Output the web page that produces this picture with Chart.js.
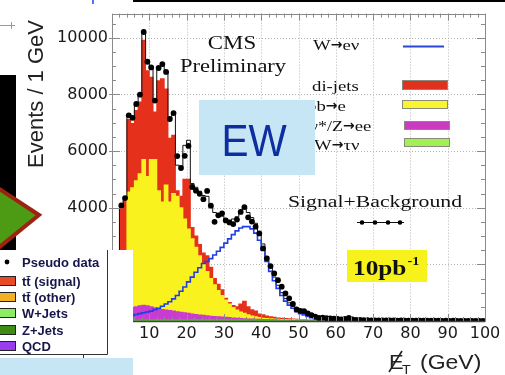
<!DOCTYPE html>
<html><head><meta charset="utf-8">
<script src="https://cdn.jsdelivr.net/npm/chart.js@4.4.0/dist/chart.umd.min.js"></script>
<style>html,body{margin:0;padding:0;background:#fff;overflow:hidden}</style>
</head><body>
<canvas id="c" width="505" height="375" style="display:block;width:505px;height:375px"></canvas>
<script>
// ---- data (1 GeV bins, 0..100 GeV) ----
const xTicks = [0,10,20,30,40,50,60,70,80,90,100];
const yTicks = [0,2000,4000,6000,8000,10000];
const wtaunu = [0,5,15,20,25,30,30,35,35,40, 40,40,45,45,45,45,45,45,45,45, 45,45,45,45,45,45,45,45,45,45, 45,40,40,40,40,40,35,35,35,30, 30,25,25,20,20,15,15,12,10,10, 8,7,6,6,5,5,4,4,3,3, 3,3,3,3,3,3,3,3,3,3, 2,2,2,2,2,2,2,2,2,2, 1,1,1,1,1,1,1,1,1,1, 1,1,1,1,1,1,1,1,1,1];
const zee = [100,245,335,380,425,450,470,505,525,500, 460,430,395,365,345,325,305,285,265,245, 225,205,185,170,155,140,125,115,105,95, 85,80,70,60,50,40,40,35,30,30, 25,25,20,20,15,15,13,13,12,10, 10,9,8,8,7,7,6,6,5,5, 4,4,4,4,4,4,4,4,4,4, 3,3,3,3,3,3,3,3,3,3, 2,2,2,2,2,2,2,2,2,2, 2,2,2,2,2,2,2,2,2,2];
const bbe = [400,650,1150,1800,4100,4220,4450,4660,5140,4560, 5200,5230,4160,3790,4410,3830,4150,4070,3690,3310, 2980,2650,2370,2085,1800,1565,1330,1120,930,760, 610,480,370,290,230,190,145,110,85,60, 45,40,35,30,27,25,22,20,18,16, 14,12,11,10,9,8,7,6,6,5, 4,4,4,4,4,4,4,4,4,4, 3,3,3,3,3,3,3,3,3,3, 2,2,2,2,2,2,2,2,2,2, 2,2,2,2,2,2,2,2,2,2];
const dijets = [300,1300,2460,2040,2560,2270,2480,2530,4210,3730, 2900,1680,3880,4350,3390,2250,2060,200,400,1400, 1750,400,400,400,400,550,400,220,220,200, 60,50,70,110,280,430,280,220,200,130, 120,90,70,60,48,45,40,35,30,24, 18,15,14,13,12,12,11,10,10,9, 8,8,8,8,8,8,8,8,8,8, 6,6,6,6,6,6,6,6,6,6, 4,4,4,4,4,4,4,4,4,4, 4,4,4,4,4,4,4,4,4,4];
const wenu = [10,30,60,100,150,200,230,260,290,320, 350,400,450,520,600,680,780,900,1050,1200, 1380,1550,1720,1880,2030,2100,2200,2330,2460,2600, 2750,2900,3050,3180,3280,3330,3330,3250,3100,2850, 2500,2100,1750,1420,1150,900,700,560,450,330, 260,210,160,120,90,70,55,45,38,32, 28,25,22,20,18,16,14,13,12,11, 10,9,9,8,8,7,7,6,6,6, 5,5,5,4,4,4,4,3,3,3, 3,3,2,2,2,2,2,2,2,2];
const pseudoData = [300,1800,4080,4340,7260,7170,7660,7990,10200,9150, 8950,7780,8930,9070,8790,7130,7340,5820,5400,5830, 6180,4730,4600,4490,4300,4590,4070,3500,3730,3800, 3550,3480,3420,3580,3850,4020,3660,3510,3330,3090, 2560,2210,1940,1680,1440,1210,975,800,600,410, 360,350,270,210,150,110,120,100,90,80, 70,60,70,110,60,40,35,30,30,25, 25,20,25,20,18,20,15,18,15,12, 15,12,10,12,10,8,10,8,6,8, 6,8,5,6,5,4,5,3,4,3];

const N = pseudoData.length;
const bars = arr => arr.map((v,i)=>({x:i+0.5,y:v}));
const steps = arr => { const p = arr.map((v,i)=>({x:i,y:v})); p.push({x:N,y:arr[N-1]}); return p; };
const totalMC = wenu.map((v,i)=>v+wtaunu[i]+zee[i]+bbe[i]+dijets[i]);

function sText(ctx, txt, x, y, font, color, sx, align){
  ctx.save(); ctx.font = font; ctx.fillStyle = color; ctx.textBaseline = 'alphabetic'; ctx.textAlign = 'left';
  const w = ctx.measureText(txt).width * sx;
  const x0 = align === 'center' ? x - w/2 : (align === 'right' ? x - w : x);
  ctx.translate(x0, y); ctx.scale(sx, 1); ctx.fillText(txt, 0, 0); ctx.restore();
  return x0 + w;
}
// text made of runs: [text, font, sx]
function runs(ctx, parts, x, y, color){
  let cx = x;
  parts.forEach(([t, f, sx, dy]) => { cx = sText(ctx, t, cx, y + (dy || 0), f, color, sx, 'left'); });
  return cx;
}

const deco = {
  id: 'deco',
  beforeDatasetsDraw(chart){
    const {ctx, chartArea:a, scales:{x, y}} = chart;
    ctx.save();
    ctx.strokeStyle = '#b5b5b5'; ctx.lineWidth = 1; ctx.setLineDash([1,2]);
    xTicks.slice(1,-1).forEach(v => { const p = Math.round(x.getPixelForValue(v)) + 0.5; ctx.beginPath(); ctx.moveTo(p, a.top); ctx.lineTo(p, a.bottom); ctx.stroke(); });
    yTicks.slice(1).forEach(v => { const p = Math.round(y.getPixelForValue(v)) + 0.5; ctx.beginPath(); ctx.moveTo(a.left, p); ctx.lineTo(a.right, p); ctx.stroke(); });
    ctx.restore();
  },
  afterDatasetsDraw(chart){
    const {ctx, chartArea:a, scales:{x, y}} = chart;
    ctx.save();
    ctx.strokeStyle = '#8a8a8a'; ctx.lineWidth = 1;
    ctx.strokeRect(Math.round(a.left)+0.5, Math.round(a.top)+0.5, Math.round(a.right-a.left), Math.round(a.bottom-a.top));
    ctx.beginPath();
    for (let v = 0; v <= 100; v += 2) {
      const p = Math.round(x.getPixelForValue(v)) + 0.5, L = v % 10 === 0 ? 7 : 4;
      ctx.moveTo(p, a.top); ctx.lineTo(p, a.top + L);
      ctx.moveTo(p, a.bottom); ctx.lineTo(p, a.bottom - L);
    }
    for (let v = 0; v <= 10500; v += 500) {
      const p = Math.round(y.getPixelForValue(v)) + 0.5, L = v % 2000 === 0 ? 8 : 4;
      ctx.moveTo(a.left - (v % 2000 === 0 ? 3 : 0), p); ctx.lineTo(a.left + L, p);
      ctx.moveTo(a.right, p); ctx.lineTo(a.right - L, p);
    }
    ctx.stroke();
    ctx.strokeStyle = '#444'; ctx.lineWidth = 1.5;
    ctx.beginPath(); ctx.moveTo(a.left, a.bottom + 0.5); ctx.lineTo(a.right, a.bottom + 0.5); ctx.stroke();
    ctx.restore();
  },
  afterDraw(chart){
    const ctx = chart.ctx;
    ctx.save();
    const serif = (s) => s + 'px "Liberation Serif", "DejaVu Serif", serif';
    const arrow = ['\u2192', 'bold 14px "DejaVu Sans", sans-serif', 1.0, -1];
    // CMS Preliminary
    sText(ctx, 'CMS', 232, 48.5, serif(18), '#111', 1.27, 'center');
    sText(ctx, 'Preliminary', 233, 72, serif(18), '#111', 1.25, 'center');
    // right legend
    const lg = serif(15);
    runs(ctx, [['W', lg, 1.25], arrow, ['e\u03bd', lg, 1.25]], 313, 50, '#111');
    sText(ctx, 'di-jets', 312, 91, lg, '#111', 1.25, 'left');
    runs(ctx, [['bb', lg, 1.25], arrow, ['e', lg, 1.25]], 307, 111, '#111');
    runs(ctx, [['\u03b3*/Z', lg, 1.2], arrow, ['ee', lg, 1.25]], 310, 131, '#111');
    runs(ctx, [['W', lg, 1.25], arrow, ['\u03c4\u03bd', lg, 1.25]], 314, 150, '#111');
    ctx.strokeStyle = '#2a46d8'; ctx.lineWidth = 2;
    ctx.beginPath(); ctx.moveTo(403, 46.5); ctx.lineTo(444, 46.5); ctx.stroke();
    const box = (x0, y0, w, h, c) => { ctx.fillStyle = c; ctx.fillRect(x0, y0, w, h); ctx.strokeStyle = '#8a8a7a'; ctx.lineWidth = 1; ctx.strokeRect(x0+0.5, y0+0.5, w-1, h-1); };
    box(402, 80, 46, 10, '#e0301e');
    box(402, 100, 46, 9, '#fbf530');
    box(404, 121, 46, 9, '#c93cc0');
    box(404, 138, 46, 9, '#a3f055');
    // Signal + Background
    sText(ctx, 'Signal+Background', 375, 207, serif(17), '#111', 1.28, 'center');
    ctx.strokeStyle = '#111'; ctx.lineWidth = 1;
    ctx.beginPath(); ctx.moveTo(357, 222.5); ctx.lineTo(404, 222.5); ctx.stroke();
    ctx.fillStyle = '#000';
    [362, 375, 388, 400].forEach(px => { ctx.beginPath(); ctx.arc(px, 222.5, 2.3, 0, Math.PI*2); ctx.fill(); });
    // 10 pb-1
    ctx.fillStyle = '#f7f21c'; ctx.fillRect(347, 250, 80, 32);
    const e = sText(ctx, '10pb', 353, 275, 'bold ' + serif(22), '#111', 1.15, 'left');
    sText(ctx, '-1', e + 1, 265, 'bold ' + serif(13), '#111', 1.1, 'left');
    // EW box
    ctx.fillStyle = '#c6e6f6'; ctx.fillRect(199, 100, 116, 75);
    sText(ctx, 'EW', 254, 156, '44px "Liberation Sans", Arial, sans-serif', '#0d2ea0', 0.92, 'center');
    // axis titles
    ctx.save();
    ctx.translate(43, 94); ctx.rotate(-Math.PI/2);
    ctx.font = '22px "Liberation Sans", Arial, sans-serif'; ctx.fillStyle = '#222'; ctx.textAlign = 'center'; ctx.textBaseline = 'alphabetic';
    ctx.fillText('Events / 1 GeV', 0, 0);
    ctx.restore();
    const sans = (s) => s + 'px "Liberation Sans", Arial, sans-serif';
    sText(ctx, 'E', 389, 369, sans(20), '#222', 1.1, 'left');
    ctx.strokeStyle = '#222'; ctx.lineWidth = 1.6;
    ctx.beginPath(); ctx.moveTo(389, 372); ctx.lineTo(402, 351); ctx.stroke();
    sText(ctx, 'T', 402, 374, sans(13), '#222', 1.1, 'left');
    sText(ctx, '(GeV)', 420, 369, sans(20), '#222', 1.15, 'left');
    // left decorations
    ctx.fillStyle = '#000'; ctx.fillRect(0, 75, 16, 175);
    ctx.beginPath(); ctx.moveTo(-45, 160); ctx.lineTo(39, 215); ctx.lineTo(-45, 283); ctx.closePath();
    ctx.fillStyle = '#4d9b14'; ctx.fill();
    ctx.strokeStyle = '#9b2410'; ctx.lineWidth = 4; ctx.lineJoin = 'miter'; ctx.stroke();
    ctx.strokeStyle = '#999'; ctx.lineWidth = 1;
    ctx.beginPath(); ctx.moveTo(0, 25.5); ctx.lineTo(15, 25.5); ctx.moveTo(11.5, 22); ctx.lineTo(11.5, 29); ctx.stroke();
    // white legend box
    ctx.fillStyle = '#fff'; ctx.fillRect(0, 250, 133, 108);
    ctx.strokeStyle = '#333'; ctx.lineWidth = 1;
    ctx.beginPath(); ctx.moveTo(107.5, 250); ctx.lineTo(107.5, 354.5); ctx.lineTo(0, 354.5); ctx.moveTo(83.5, 354.5); ctx.lineTo(83.5, 358); ctx.stroke();
    const lf = 'bold 13px "Liberation Sans", Arial, sans-serif', lc = '#16164a';
    ctx.fillStyle = '#000'; ctx.beginPath(); ctx.arc(7, 262, 2.4, 0, Math.PI*2); ctx.fill();
    sText(ctx, 'Pseudo data', 22, 267, lf, lc, 1.0, 'left');
    const ent = [['tt\u0304 (signal)', '#e84a28', 276], ['tt\u0304 (other)', '#f2b124', 292], ['W+Jets', '#8cec64', 308], ['Z+Jets', '#3e8c14', 325], ['QCD', '#9a3cf0', 341]];
    ent.forEach(([t, c, yy]) => {
      ctx.fillStyle = c; ctx.fillRect(-2, yy, 18, 10);
      ctx.strokeStyle = '#222'; ctx.lineWidth = 1; ctx.strokeRect(-1.5, yy + 0.5, 17, 9);
      sText(ctx, t, 22, yy + 10, lf, lc, 1.0, 'left');
    });
    ctx.fillStyle = '#c6e6f6'; ctx.fillRect(0, 358, 133, 17);
    // top edge
    ctx.fillStyle = '#000'; ctx.fillRect(133, 0, 372, 2);
    ctx.fillStyle = '#4a78f0'; ctx.fillRect(92, 0, 2, 4);
    ctx.restore();
  }
};

const barDs = (label, arr, color) => ({
  type: 'bar', label, data: bars(arr), backgroundColor: color, borderWidth: 0,
  barPercentage: 1, categoryPercentage: 1, inflateAmount: 0.5, stack: 'bg', order: 3
});

new Chart(document.getElementById('c'), {
  type: 'line',
  data: {
    datasets: [
      { type: 'scatter', label: 'Signal+Background', data: bars(pseudoData), pointRadius: 2.9, pointBackgroundColor: '#000', pointBorderWidth: 0, showLine: false, order: 0 },
      { type: 'line', label: 'W\u2192e\u03bd', data: steps(wenu), stepped: true, borderColor: '#1f3fe6', borderWidth: 1.6, pointRadius: 0, fill: false, order: 1 },
      { type: 'line', label: 'total', data: steps(totalMC), stepped: true, borderColor: '#111', borderWidth: 1, pointRadius: 0, fill: false, order: 2 },
      barDs('W\u2192\u03c4\u03bd', wtaunu, '#55b52a'),
      barDs('\u03b3*/Z\u2192ee', zee, '#c93cd0'),
      barDs('bb\u2192e', bbe, '#f9f21e'),
      barDs('di-jets', dijets, '#e5311c')
    ]
  },
  options: {
    responsive: false, animation: false, events: [],
    layout: { padding: { left: 0, right: 20, top: 13, bottom: 0 } },
    plugins: { legend: { display: false }, tooltip: { enabled: false } },
    scales: {
      x: {
        type: 'linear', min: 0, max: 100, offset: false,
        grid: { display: false, drawTicks: false, offset: false }, border: { display: false },
        afterBuildTicks: s => { s.ticks = xTicks.map(v => ({ value: v })); },
        afterFit: s => { s.height = 54; },
        ticks: { padding: 3, autoSkip: false, maxRotation: 0, color: '#1a1a1a', font: { family: '"DejaVu Sans", sans-serif', size: 16 }, callback: v => String(v) }
      },
      y: {
        type: 'linear', min: 0, max: 10850,
        grid: { display: false, drawTicks: false }, border: { display: false },
        afterBuildTicks: s => { s.ticks = yTicks.map(v => ({ value: v })); },
        afterFit: s => { s.width = 112; },
        ticks: { padding: 4, color: '#1a1a1a', font: { family: '"DejaVu Sans", sans-serif', size: 16 }, callback: v => String(v) }
      }
    }
  },
  plugins: [deco]
});
</script>
</body></html>
